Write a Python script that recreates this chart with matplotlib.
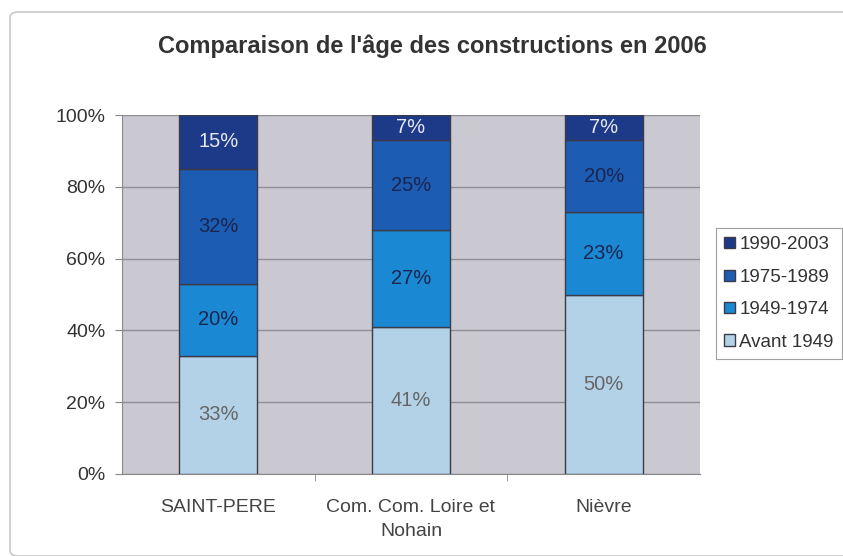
import matplotlib
matplotlib.use("Agg")
import matplotlib.pyplot as plt
from matplotlib.patches import FancyBboxPatch
import numpy as np

plt.rcParams['font.family'] = ['Liberation Sans', 'DejaVu Sans']

categories = ["SAINT-PERE", "Com. Com. Loire et\nNohain", "Nièvre"]
series_names = ["Avant 1949", "1949-1974", "1975-1989", "1990-2003"]
avant_1949 = [33, 41, 50]
p1949_1974 = [20, 27, 23]
p1975_1989 = [32, 25, 20]
p1990_2003 = [15, 7, 7]
values = [avant_1949, p1949_1974, p1975_1989, p1990_2003]
colors = ["#b3d2e8", "#1a88d2", "#1c5cb2", "#1d3a88"]
text_colors = ["#666666", "#1a2550", "#1a2550", "#e6e8f0"]

fig = plt.figure(figsize=(8.43, 5.56), dpi=100)
fig.patch.set_facecolor("white")
border = FancyBboxPatch((10/843, 0.0), 1.2, 1 - 12/556, boxstyle="round,pad=0,rounding_size=0.01",
                        transform=fig.transFigure, facecolor="none", edgecolor="#c8c8c8", lw=1.2)
fig.patches.append(border)

ax = fig.add_axes([122/843, 1 - 474/556, (700 - 122)/843, (474 - 115)/556])
ax.set_facecolor("#cac8d0")
x = np.arange(len(categories))
totals = np.array([sum(v[i] for v in values) for i in range(len(categories))], dtype=float)
bottom = np.zeros(len(categories))
handles = []
for name, vals, c, tc in zip(series_names, values, colors, text_colors):
    frac = np.array(vals) / totals
    b = ax.bar(x, frac, 0.405, bottom=bottom, color=c, edgecolor="#3a3a48", linewidth=1.0, label=name, zorder=3)
    handles.append(b)
    for xi, bi, fi, v in zip(x, bottom, frac, vals):
        ax.text(xi, bi + fi / 2, f"{v}%", ha="center", va="center",
                color=tc, fontsize=14.5, zorder=4)
    bottom += frac

ax.set_xlim(-0.5, 2.5)
ax.set_ylim(0, 1)
ax.set_yticks(np.arange(0, 1.01, 0.2))
ax.set_yticklabels([f"{int(round(t*100))}%" for t in np.arange(0, 1.01, 0.2)], fontsize=14, color="#333333")
ax.yaxis.grid(True, color="#8e8e94", lw=1.0, zorder=0)
ax.set_axisbelow(True)
ax.set_xticks(x)
ax.set_xticklabels(categories, fontsize=14, color="#444444", linespacing=1.5)
ax.tick_params(axis="x", length=0, pad=18)
ax.tick_params(axis="y", length=5, color="#888888", pad=7)
for s in ["top", "right"]:
    ax.spines[s].set_visible(False)
ax.spines["left"].set_color("#888888")
ax.spines["bottom"].set_color("#888888")
ax.set_xticks([0.5, 1.5], minor=True)
ax.tick_params(axis="x", which="minor", length=5, color="#888888")

fig.text(432/843, 1 - 46/556, "Comparaison de l'âge des constructions en 2006", ha="center", va="center",
         fontsize=17, fontweight="bold", color="#333333")

leg = fig.legend(handles[::-1], series_names[::-1], loc="upper left",
                 bbox_to_anchor=(716/843, 1 - 228/556), frameon=True, fontsize=13.5,
                 handlelength=0.55, handleheight=0.55, handletextpad=0.25, labelspacing=0.82,
                 borderpad=0.45, borderaxespad=0, fancybox=False, edgecolor="#888888")
leg.get_frame().set_linewidth(0.8)
for t in leg.get_texts():
    t.set_color("#333333")

fig.savefig("out.png", dpi=100)
